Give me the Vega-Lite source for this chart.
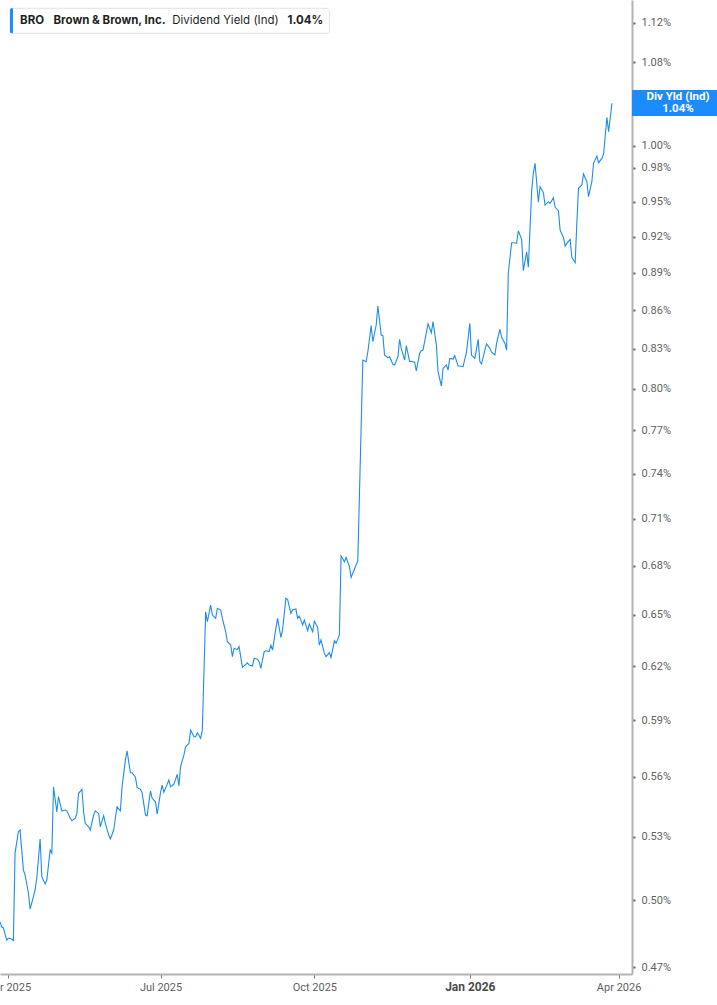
{
  "$schema": "https://vega.github.io/schema/vega-lite/v6.json",
  "width": 632,
  "height": 974,
  "autosize": {"type": "none"},
  "padding": {"left": 0, "top": 0, "right": 85, "bottom": 31},
  "background": "white",
  "config": {"view": {"stroke": null}, "font": "Roboto"},
  "layer": [
    {
      "data": {
        "values": [
          {"date": "2025-03-27", "yield": 0.4902}, {"date": "2025-03-28", "yield": 0.4879}, {"date": "2025-03-29", "yield": 0.4874},
          {"date": "2025-03-31", "yield": 0.4820}, {"date": "2025-04-01", "yield": 0.4829}, {"date": "2025-04-03", "yield": 0.4825},
          {"date": "2025-04-04", "yield": 0.4817}, {"date": "2025-04-05", "yield": 0.5221}, {"date": "2025-04-07", "yield": 0.5325},
          {"date": "2025-04-08", "yield": 0.5333}, {"date": "2025-04-10", "yield": 0.5140}, {"date": "2025-04-11", "yield": 0.5117},
          {"date": "2025-04-13", "yield": 0.5033}, {"date": "2025-04-14", "yield": 0.4959}, {"date": "2025-04-16", "yield": 0.5016},
          {"date": "2025-04-17", "yield": 0.5047}, {"date": "2025-04-18", "yield": 0.5103}, {"date": "2025-04-20", "yield": 0.5289},
          {"date": "2025-04-21", "yield": 0.5109}, {"date": "2025-04-23", "yield": 0.5075}, {"date": "2025-04-24", "yield": 0.5093},
          {"date": "2025-04-26", "yield": 0.5236}, {"date": "2025-04-27", "yield": 0.5221}, {"date": "2025-04-28", "yield": 0.5549},
          {"date": "2025-04-30", "yield": 0.5423}, {"date": "2025-05-01", "yield": 0.5499}, {"date": "2025-05-03", "yield": 0.5427},
          {"date": "2025-05-05", "yield": 0.5432}, {"date": "2025-05-06", "yield": 0.5428}, {"date": "2025-05-08", "yield": 0.5391},
          {"date": "2025-05-09", "yield": 0.5379}, {"date": "2025-05-11", "yield": 0.5391}, {"date": "2025-05-12", "yield": 0.5415},
          {"date": "2025-05-13", "yield": 0.5516}, {"date": "2025-05-15", "yield": 0.5536}, {"date": "2025-05-16", "yield": 0.5423},
          {"date": "2025-05-17", "yield": 0.5366}, {"date": "2025-05-19", "yield": 0.5349}, {"date": "2025-05-20", "yield": 0.5333},
          {"date": "2025-05-22", "yield": 0.5407}, {"date": "2025-05-23", "yield": 0.5428}, {"date": "2025-05-25", "yield": 0.5415},
          {"date": "2025-05-26", "yield": 0.5349}, {"date": "2025-05-28", "yield": 0.5404}, {"date": "2025-05-29", "yield": 0.5366},
          {"date": "2025-05-31", "yield": 0.5309}, {"date": "2025-06-01", "yield": 0.5289}, {"date": "2025-06-03", "yield": 0.5333},
          {"date": "2025-06-04", "yield": 0.5391}, {"date": "2025-06-05", "yield": 0.5448}, {"date": "2025-06-07", "yield": 0.5428},
          {"date": "2025-06-08", "yield": 0.5549}, {"date": "2025-06-10", "yield": 0.5687}, {"date": "2025-06-11", "yield": 0.5736},
          {"date": "2025-06-13", "yield": 0.5621}, {"date": "2025-06-14", "yield": 0.5621}, {"date": "2025-06-16", "yield": 0.5598},
          {"date": "2025-06-17", "yield": 0.5546}, {"date": "2025-06-19", "yield": 0.5536}, {"date": "2025-06-20", "yield": 0.5519},
          {"date": "2025-06-22", "yield": 0.5407}, {"date": "2025-06-23", "yield": 0.5404}, {"date": "2025-06-25", "yield": 0.5529},
          {"date": "2025-06-26", "yield": 0.5491}, {"date": "2025-06-28", "yield": 0.5473}, {"date": "2025-06-29", "yield": 0.5412},
          {"date": "2025-07-01", "yield": 0.5519}, {"date": "2025-07-02", "yield": 0.5558}, {"date": "2025-07-03", "yield": 0.5521},
          {"date": "2025-07-05", "yield": 0.5562}, {"date": "2025-07-06", "yield": 0.5584}, {"date": "2025-07-07", "yield": 0.5549},
          {"date": "2025-07-09", "yield": 0.5563}, {"date": "2025-07-11", "yield": 0.5613}, {"date": "2025-07-12", "yield": 0.5553},
          {"date": "2025-07-13", "yield": 0.5652}, {"date": "2025-07-15", "yield": 0.5714}, {"date": "2025-07-16", "yield": 0.5757},
          {"date": "2025-07-18", "yield": 0.5775}, {"date": "2025-07-19", "yield": 0.5846}, {"date": "2025-07-21", "yield": 0.5810},
          {"date": "2025-07-22", "yield": 0.5810}, {"date": "2025-07-23", "yield": 0.5832}, {"date": "2025-07-25", "yield": 0.5802},
          {"date": "2025-07-26", "yield": 0.5846}, {"date": "2025-07-28", "yield": 0.6518}, {"date": "2025-07-29", "yield": 0.6458},
          {"date": "2025-07-31", "yield": 0.6558}, {"date": "2025-08-01", "yield": 0.6498}, {"date": "2025-08-03", "yield": 0.6478},
          {"date": "2025-08-04", "yield": 0.6538}, {"date": "2025-08-06", "yield": 0.6528}, {"date": "2025-08-07", "yield": 0.6478},
          {"date": "2025-08-09", "yield": 0.6399}, {"date": "2025-08-10", "yield": 0.6341}, {"date": "2025-08-12", "yield": 0.6321},
          {"date": "2025-08-13", "yield": 0.6254}, {"date": "2025-08-14", "yield": 0.6302}, {"date": "2025-08-16", "yield": 0.6296},
          {"date": "2025-08-17", "yield": 0.6312}, {"date": "2025-08-19", "yield": 0.6193}, {"date": "2025-08-20", "yield": 0.6201},
          {"date": "2025-08-22", "yield": 0.6219}, {"date": "2025-08-23", "yield": 0.6206}, {"date": "2025-08-25", "yield": 0.6201},
          {"date": "2025-08-26", "yield": 0.6245}, {"date": "2025-08-28", "yield": 0.6239}, {"date": "2025-08-29", "yield": 0.6225},
          {"date": "2025-08-30", "yield": 0.6187}, {"date": "2025-09-01", "yield": 0.6283}, {"date": "2025-09-02", "yield": 0.6288},
          {"date": "2025-09-04", "yield": 0.6283}, {"date": "2025-09-05", "yield": 0.6321}, {"date": "2025-09-06", "yield": 0.6292},
          {"date": "2025-09-08", "yield": 0.6419}, {"date": "2025-09-09", "yield": 0.6478}, {"date": "2025-09-11", "yield": 0.6366},
          {"date": "2025-09-12", "yield": 0.6409}, {"date": "2025-09-14", "yield": 0.6599}, {"date": "2025-09-15", "yield": 0.6593},
          {"date": "2025-09-17", "yield": 0.6508}, {"date": "2025-09-18", "yield": 0.6528}, {"date": "2025-09-20", "yield": 0.6534},
          {"date": "2025-09-21", "yield": 0.6478}, {"date": "2025-09-22", "yield": 0.6492}, {"date": "2025-09-24", "yield": 0.6439},
          {"date": "2025-09-25", "yield": 0.6468}, {"date": "2025-09-27", "yield": 0.6405}, {"date": "2025-09-28", "yield": 0.6445},
          {"date": "2025-09-30", "yield": 0.6399}, {"date": "2025-10-01", "yield": 0.6462}, {"date": "2025-10-03", "yield": 0.6425},
          {"date": "2025-10-04", "yield": 0.6321}, {"date": "2025-10-05", "yield": 0.6351}, {"date": "2025-10-07", "yield": 0.6273},
          {"date": "2025-10-08", "yield": 0.6254}, {"date": "2025-10-10", "yield": 0.6277}, {"date": "2025-10-11", "yield": 0.6250},
          {"date": "2025-10-13", "yield": 0.6346}, {"date": "2025-10-14", "yield": 0.6331}, {"date": "2025-10-16", "yield": 0.6380},
          {"date": "2025-10-17", "yield": 0.6860}, {"date": "2025-10-19", "yield": 0.6824}, {"date": "2025-10-20", "yield": 0.6852},
          {"date": "2025-10-22", "yield": 0.6793}, {"date": "2025-10-23", "yield": 0.6727}, {"date": "2025-10-24", "yield": 0.6752},
          {"date": "2025-10-26", "yield": 0.6804}, {"date": "2025-10-27", "yield": 0.6831}, {"date": "2025-10-30", "yield": 0.8214},
          {"date": "2025-11-01", "yield": 0.8202}, {"date": "2025-11-02", "yield": 0.8277}, {"date": "2025-11-04", "yield": 0.8478},
          {"date": "2025-11-05", "yield": 0.8354}, {"date": "2025-11-07", "yield": 0.8483}, {"date": "2025-11-08", "yield": 0.8632},
          {"date": "2025-11-10", "yield": 0.8405}, {"date": "2025-11-11", "yield": 0.8400}, {"date": "2025-11-12", "yield": 0.8252},
          {"date": "2025-11-14", "yield": 0.8232}, {"date": "2025-11-15", "yield": 0.8239}, {"date": "2025-11-17", "yield": 0.8182},
          {"date": "2025-11-18", "yield": 0.8177}, {"date": "2025-11-20", "yield": 0.8239}, {"date": "2025-11-21", "yield": 0.8372},
          {"date": "2025-11-22", "yield": 0.8303}, {"date": "2025-11-24", "yield": 0.8214}, {"date": "2025-11-25", "yield": 0.8323},
          {"date": "2025-11-27", "yield": 0.8202}, {"date": "2025-11-28", "yield": 0.8205}, {"date": "2025-11-30", "yield": 0.8198},
          {"date": "2025-12-01", "yield": 0.8132}, {"date": "2025-12-03", "yield": 0.8265}, {"date": "2025-12-04", "yield": 0.8285},
          {"date": "2025-12-05", "yield": 0.8290}, {"date": "2025-12-07", "yield": 0.8423}, {"date": "2025-12-08", "yield": 0.8493},
          {"date": "2025-12-10", "yield": 0.8423}, {"date": "2025-12-11", "yield": 0.8509}, {"date": "2025-12-13", "yield": 0.8328},
          {"date": "2025-12-14", "yield": 0.8127}, {"date": "2025-12-16", "yield": 0.8020}, {"date": "2025-12-17", "yield": 0.8152},
          {"date": "2025-12-19", "yield": 0.8177}, {"date": "2025-12-20", "yield": 0.8139}, {"date": "2025-12-21", "yield": 0.8227},
          {"date": "2025-12-23", "yield": 0.8222}, {"date": "2025-12-24", "yield": 0.8247}, {"date": "2025-12-26", "yield": 0.8169},
          {"date": "2025-12-27", "yield": 0.8169}, {"date": "2025-12-29", "yield": 0.8164}, {"date": "2025-12-30", "yield": 0.8222},
          {"date": "2025-12-31", "yield": 0.8273}, {"date": "2026-01-02", "yield": 0.8496}, {"date": "2026-01-03", "yield": 0.8252},
          {"date": "2026-01-05", "yield": 0.8227}, {"date": "2026-01-07", "yield": 0.8372}, {"date": "2026-01-08", "yield": 0.8202},
          {"date": "2026-01-09", "yield": 0.8184}, {"date": "2026-01-11", "yield": 0.8290}, {"date": "2026-01-12", "yield": 0.8336},
          {"date": "2026-01-14", "yield": 0.8303}, {"date": "2026-01-15", "yield": 0.8273}, {"date": "2026-01-17", "yield": 0.8252},
          {"date": "2026-01-18", "yield": 0.8341}, {"date": "2026-01-20", "yield": 0.8450}, {"date": "2026-01-21", "yield": 0.8390},
          {"date": "2026-01-23", "yield": 0.8341}, {"date": "2026-01-24", "yield": 0.8290}, {"date": "2026-01-25", "yield": 0.8896},
          {"date": "2026-01-27", "yield": 0.9149}, {"date": "2026-01-28", "yield": 0.9149}, {"date": "2026-01-30", "yield": 0.9145},
          {"date": "2026-01-31", "yield": 0.9251}, {"date": "2026-02-02", "yield": 0.9178}, {"date": "2026-02-03", "yield": 0.8917},
          {"date": "2026-02-05", "yield": 0.9074}, {"date": "2026-02-06", "yield": 0.8945}, {"date": "2026-02-08", "yield": 0.9603},
          {"date": "2026-02-09", "yield": 0.9752}, {"date": "2026-02-10", "yield": 0.9842}, {"date": "2026-02-12", "yield": 0.9496},
          {"date": "2026-02-13", "yield": 0.9633}, {"date": "2026-02-15", "yield": 0.9580}, {"date": "2026-02-16", "yield": 0.9472},
          {"date": "2026-02-18", "yield": 0.9501}, {"date": "2026-02-19", "yield": 0.9487}, {"date": "2026-02-21", "yield": 0.9536},
          {"date": "2026-02-22", "yield": 0.9452}, {"date": "2026-02-24", "yield": 0.9423}, {"date": "2026-02-25", "yield": 0.9257},
          {"date": "2026-02-27", "yield": 0.9195}, {"date": "2026-02-28", "yield": 0.9122}, {"date": "2026-03-01", "yield": 0.9144},
          {"date": "2026-03-03", "yield": 0.9178}, {"date": "2026-03-04", "yield": 0.9028}, {"date": "2026-03-06", "yield": 0.8983},
          {"date": "2026-03-07", "yield": 0.9314}, {"date": "2026-03-08", "yield": 0.9619}, {"date": "2026-03-10", "yield": 0.9648},
          {"date": "2026-03-11", "yield": 0.9746}, {"date": "2026-03-13", "yield": 0.9677}, {"date": "2026-03-14", "yield": 0.9545},
          {"date": "2026-03-16", "yield": 0.9677}, {"date": "2026-03-17", "yield": 0.9842}, {"date": "2026-03-19", "yield": 0.9908},
          {"date": "2026-03-20", "yield": 0.9848}, {"date": "2026-03-22", "yield": 0.9887}, {"date": "2026-03-23", "yield": 0.9927},
          {"date": "2026-03-25", "yield": 1.0267}, {"date": "2026-03-26", "yield": 1.0132}, {"date": "2026-03-28", "yield": 1.0400}
        ]
      },
      "mark": {"type": "line", "color": "#1c8cf0", "strokeWidth": 1.1},
      "encoding": {
        "x": {
          "field": "date",
          "type": "temporal",
          "title": null,
          "scale": {"domain": [{"year": 2025, "month": "mar", "date": 27}, {"year": 2026, "month": "apr", "date": 9}]},
          "axis": {
            "grid": false,
            "values": [
              {"year": 2025, "month": "apr", "date": 1},
              {"year": 2025, "month": "jul", "date": 1},
              {"year": 2025, "month": "oct", "date": 1},
              {"year": 2026, "month": "jan", "date": 2},
              {"year": 2026, "month": "apr", "date": 1}
            ],
            "format": "%b %Y",
            "domainColor": "#b3b3b3",
            "domainWidth": 2,
            "tickColor": "#777777",
            "tickSize": 4,
            "labelPadding": 3,
            "labelFont": "Roboto",
            "labelFontSize": {"condition": {"test": "month(datum.value) == 0", "value": 12}, "value": 11},
            "labelFontWeight": {"condition": {"test": "month(datum.value) == 0", "value": "bold"}, "value": "normal"},
            "labelColor": {"condition": {"test": "month(datum.value) == 0", "value": "#4a4a4a"}, "value": "#5f5f5f"},
            "labelFlush": false,
            "labelOverlap": false
          }
        },
        "y": {
          "field": "yield",
          "type": "quantitative",
          "title": null,
          "scale": {"type": "log", "domain": [0.4672, 1.1436], "nice": false, "zero": false},
          "axis": {
            "orient": "right",
            "grid": false,
            "values": [0.47, 0.5, 0.53, 0.56, 0.59, 0.62, 0.65, 0.68, 0.71, 0.74, 0.77, 0.8, 0.83, 0.86, 0.89, 0.92, 0.95, 0.98, 1.0, 1.08, 1.12],
            "labelExpr": "format(datum.value, '.2f') + '%'",
            "domainColor": "#b3b3b3",
            "domainWidth": 2,
            "tickColor": "#666666",
            "tickSize": 3,
            "tickWidth": 2,
            "labelPadding": 6,
            "labelFont": "Roboto",
            "labelFontSize": 11,
            "labelColor": "#5f5f5f",
            "labelFlush": false,
            "labelOverlap": false
          }
        }
      }
    },
    {
      "data": {"values": [{}]},
      "mark": {"type": "rect", "fill": "white", "stroke": "#e3e3e3", "strokeWidth": 1, "cornerRadius": 3},
      "encoding": {
        "x": {"datum": {"year": 2025, "month": "apr", "date": 2}, "type": "temporal", "title": null},
        "x2": {"datum": {"year": 2025, "month": "oct", "date": 10}},
        "y": {"datum": 1.1349, "type": "quantitative", "title": null},
        "y2": {"datum": 1.1091}
      }
    },
    {
      "data": {"values": [{}]},
      "mark": {"type": "rect", "fill": "#1a8cff", "cornerRadiusTopLeft": 3, "cornerRadiusBottomLeft": 3},
      "encoding": {
        "x": {"datum": {"year": 2025, "month": "apr", "date": 2}, "type": "temporal", "title": null},
        "x2": {"datum": {"year": 2025, "month": "apr", "date": 3, "hours": 18}},
        "y": {"datum": 1.1349, "type": "quantitative", "title": null},
        "y2": {"datum": 1.1091}
      }
    },
    {
      "data": {"values": [{}]},
      "mark": {"type": "text", "text": "BRO", "font": "Inter", "fontSize": 11.5, "fontWeight": "bold", "color": "#1f1f1f", "align": "left", "baseline": "middle"},
      "encoding": {
        "x": {"datum": {"year": 2025, "month": "apr", "date": 8}, "type": "temporal", "title": null},
        "y": {"datum": 1.1217, "type": "quantitative", "title": null}
      }
    },
    {
      "data": {"values": [{}]},
      "mark": {"type": "text", "text": "Brown & Brown, Inc.", "font": "Inter", "fontSize": 11.5, "fontWeight": "bold", "color": "#1f1f1f", "align": "left", "baseline": "middle"},
      "encoding": {
        "x": {"datum": {"year": 2025, "month": "apr", "date": 28}, "type": "temporal", "title": null},
        "y": {"datum": 1.1217, "type": "quantitative", "title": null}
      }
    },
    {
      "data": {"values": [{}]},
      "mark": {"type": "text", "text": "Dividend Yield (Ind)", "font": "Inter", "fontSize": 11.5, "fontWeight": "normal", "color": "#1f1f1f", "align": "left", "baseline": "middle"},
      "encoding": {
        "x": {"datum": {"year": 2025, "month": "jul", "date": 8}, "type": "temporal", "title": null},
        "y": {"datum": 1.1217, "type": "quantitative", "title": null}
      }
    },
    {
      "data": {"values": [{}]},
      "mark": {"type": "text", "text": "1.04%", "font": "Inter", "fontSize": 11.5, "fontWeight": "bold", "color": "#1f1f1f", "align": "left", "baseline": "middle"},
      "encoding": {
        "x": {"datum": {"year": 2025, "month": "sep", "date": 15}, "type": "temporal", "title": null},
        "y": {"datum": 1.1217, "type": "quantitative", "title": null}
      }
    },
    {
      "data": {"values": [{}]},
      "mark": {"type": "rect", "fill": "#1a8cff"},
      "encoding": {
        "x": {"datum": {"year": 2026, "month": "apr", "date": 9}, "type": "temporal", "title": null},
        "x2": {"datum": {"year": 2026, "month": "jun", "date": 5}},
        "y": {"datum": 1.0528, "type": "quantitative", "title": null},
        "y2": {"datum": 1.028}
      }
    },
    {
      "data": {"values": [{}]},
      "mark": {"type": "text", "text": ["Div Yld (Ind)", "1.04%"], "font": "Roboto", "fontSize": 11.5, "fontWeight": "bold", "color": "white", "align": "center", "baseline": "middle", "lineHeight": 12},
      "encoding": {
        "x": {"datum": {"year": 2026, "month": "may", "date": 6, "hours": 12}, "type": "temporal", "title": null},
        "y": {"datum": 1.0461, "type": "quantitative", "title": null}
      }
    }
  ]
}
